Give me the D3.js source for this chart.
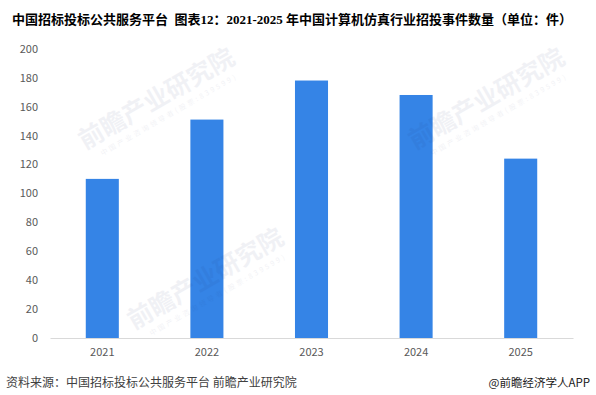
<!DOCTYPE html>
<html><head><meta charset="utf-8">
<script src="https://cdn.jsdelivr.net/npm/d3@7/dist/d3.min.js"></script>
<style>body{margin:0;background:#fff}svg{display:block}</style>
</head><body>
<svg id="c" width="596" height="395"></svg>
<script>
const categories = ["2021","2022","2023","2024","2025"];
const values = [110, 151, 178, 168, 124];
const yTicks = [0,20,40,60,80,100,120,140,160,180,200];
const title = "中国招标投标公共服务平台  图表12：2021-2025 年中国计算机仿真行业招投事件数量（单位：件）";
const source = "资料来源：中国招标投标公共服务平台 前瞻产业研究院";
const credit = "@前瞻经济学人APP";

(function(){
const svg = d3.select("#c");
const mLeft = 50, mRight = 573, mTop = 48.7, mBottom = 338;
const x = d3.scaleBand().domain(categories).range([mLeft, mRight]).paddingInner(0.684).paddingOuter(0.342);
const y = d3.scaleLinear().domain([0, 200]).range([mBottom, mTop]);

// bars
svg.append("g").selectAll("rect").data(values).join("rect")
  .attr("x", (d,i) => x(categories[i]))
  .attr("width", x.bandwidth())
  .attr("y", d => y(d))
  .attr("height", d => y(0) - y(d))
  .attr("fill", "#3584e6");

// watermarks (faint, over the bars)
const wm = [[85,150],[134,330],[415,150]];
wm.forEach(([wx,wy]) => {
  const g = svg.append("g").attr("transform", `translate(${wx},${wy}) rotate(-30)`).attr("opacity",0.06);
  g.append("text").attr("x",0).attr("y",0).attr("font-family","Noto Sans CJK SC").attr("font-weight","bold")
    .attr("font-size",25).attr("fill","#1a2a6c").text("前瞻产业研究院");
  g.append("text").attr("x",12).attr("y",14).attr("font-family","Noto Sans CJK SC")
    .attr("font-size",7).attr("letter-spacing",2.5).attr("fill","#1a2a6c").text("中国产业咨询领导者(股票:839599)");
});

// x axis
const xa = svg.append("g").attr("transform", `translate(0,${mBottom})`)
  .call(d3.axisBottom(x).tickSize(0).tickPadding(10));
xa.select(".domain").attr("stroke", "#d9d9d9").attr("stroke-width", 1.2);
xa.selectAll("text").attr("font-family","Noto Sans CJK SC, sans-serif").attr("font-size",11).attr("fill","#595959");

// y axis
const ya = svg.append("g").attr("transform", `translate(${mLeft},0)`)
  .call(d3.axisLeft(y).tickValues(yTicks).tickSize(0).tickPadding(12));
ya.select(".domain").remove();
ya.selectAll("text").attr("font-family","Noto Sans CJK SC, sans-serif").attr("font-size",11).attr("fill","#595959");

// title
svg.append("text").attr("x", 12).attr("y", 24)
  .attr("font-family", "Liberation Serif, Noto Sans CJK SC").attr("font-weight","bold")
  .attr("font-size", 13).attr("fill", "#000").style("white-space","pre").text(title);

// footer
svg.append("text").attr("x", 6).attr("y", 387)
  .attr("font-family","Noto Sans CJK SC").attr("font-size",12).attr("fill","#404040").text(source);
svg.append("text").attr("x", 590).attr("y", 387).attr("text-anchor","end")
  .attr("font-family","Noto Sans CJK SC").attr("font-size",11.5).attr("fill","#222").text(credit);
})();
</script>
</body></html>
